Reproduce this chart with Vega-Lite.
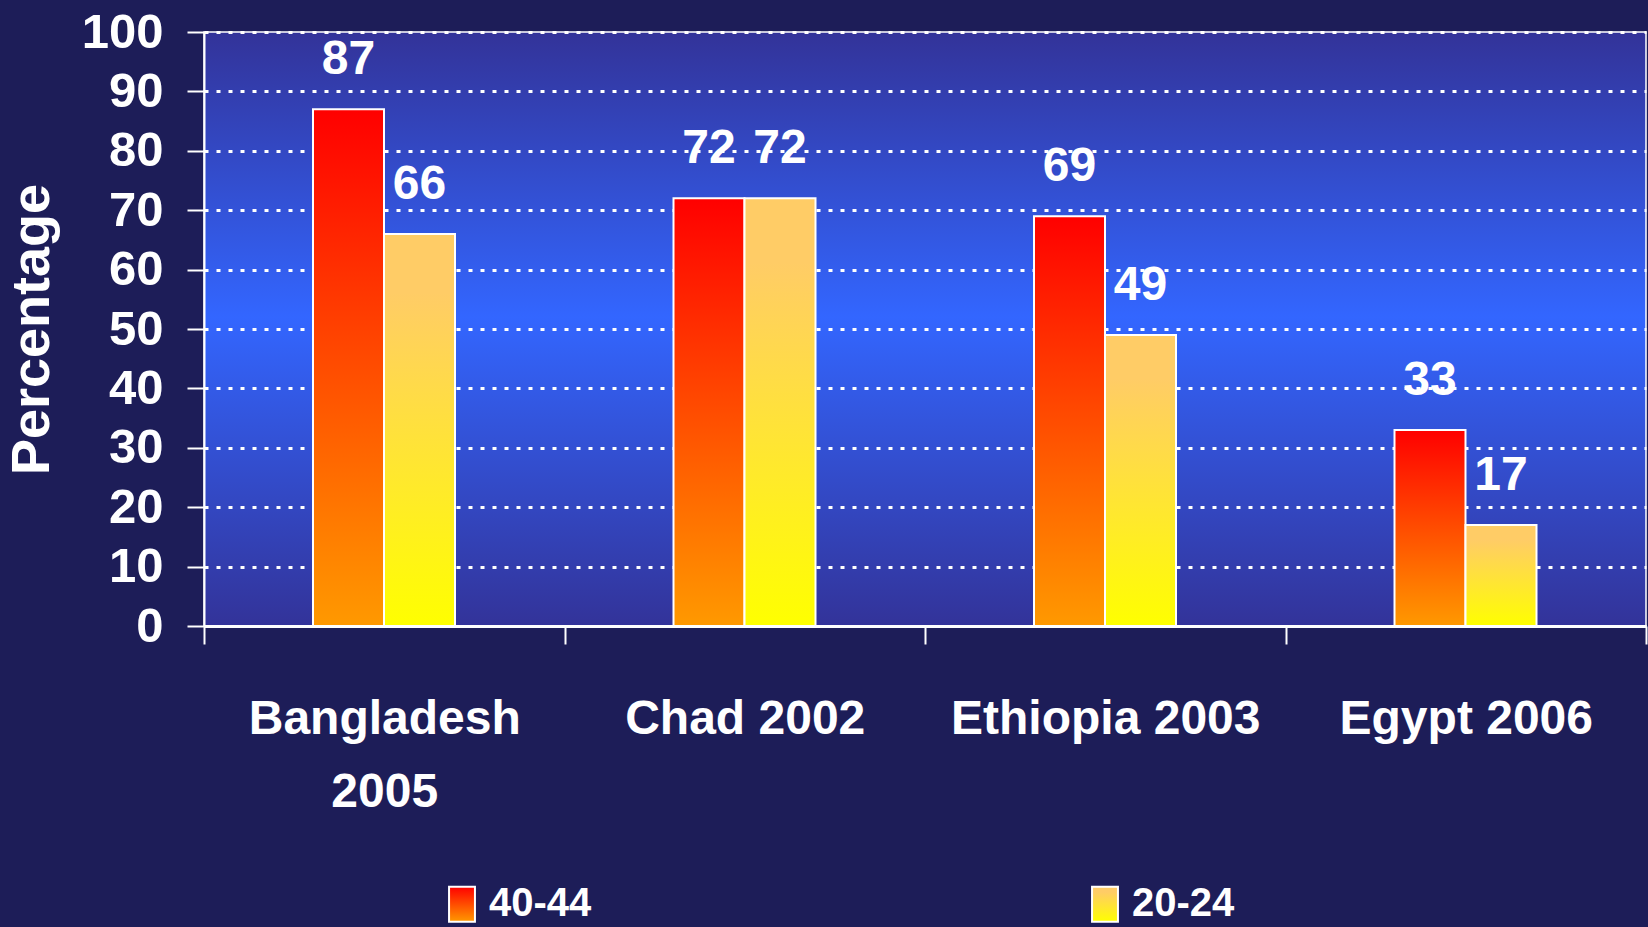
{
  "$schema": "https://vega.github.io/schema/vega-lite/v6.json",
  "autosize": {"type": "none"},
  "padding": {"left": 204, "top": 32, "right": 2, "bottom": 301},
  "width": 1442,
  "height": 594,
  "background": "#1D1D58",
  "config": {
    "view": {
      "fill": {"gradient": "linear", "x1": 0, "y1": 0, "x2": 0, "y2": 1,
        "stops": [{"offset": 0, "color": "#333399"}, {"offset": 0.48, "color": "#3366FF"}, {"offset": 1, "color": "#333399"}]},
      "stroke": "#FFFFFF",
      "strokeWidth": 1.5
    }
  },
  "data": {
    "values": [
      {"country": "Bangladesh 2005", "group": "40-44", "value": 87},
      {"country": "Bangladesh 2005", "group": "20-24", "value": 66},
      {"country": "Chad 2002", "group": "40-44", "value": 72},
      {"country": "Chad 2002", "group": "20-24", "value": 72},
      {"country": "Ethiopia 2003", "group": "40-44", "value": 69},
      {"country": "Ethiopia 2003", "group": "20-24", "value": 49},
      {"country": "Egypt 2006", "group": "40-44", "value": 33},
      {"country": "Egypt 2006", "group": "20-24", "value": 17}
    ]
  },
  "encoding": {
    "x": {
      "field": "country", "type": "nominal", "sort": null,
      "scale": {"paddingInner": 0, "paddingOuter": 0},
      "axis": {
        "title": null, "labelAngle": 0, "tickBand": "extent",
        "domainColor": "#FFFFFF", "domainWidth": 3,
        "tickColor": "#FFFFFF", "tickSize": 18, "tickWidth": 2,
        "labelFont": "Liberation Sans", "labelFontWeight": "bold", "labelFontSize": 48,
        "labelColor": "#FFFFFF", "labelPadding": 51, "labelLineHeight": 73, "labelLimit": 500,
        "labelExpr": "datum.value == 'Bangladesh 2005' ? ['Bangladesh', '2005'] : datum.label"
      }
    },
    "xOffset": {"field": "group", "type": "nominal", "sort": ["40-44", "20-24"], "scale": {"paddingInner": 0, "paddingOuter": 0, "range": [109, 251]}},
    "y": {
      "field": "value", "type": "quantitative",
      "scale": {"domain": [0, 100], "nice": false},
      "axis": {
        "title": "Percentage", "values": [0, 10, 20, 30, 40, 50, 60, 70, 80, 90, 100],
        "grid": true, "gridColor": "#FFFFFF", "gridWidth": 3, "gridDash": [4, 8], "gridOpacity": 1,
        "domainColor": "#FFFFFF", "domainWidth": 2,
        "tickColor": "#FFFFFF", "tickSize": 17, "tickWidth": 2,
        "labelFont": "Liberation Sans", "labelFontWeight": "bold", "labelFontSize": 49,
        "labelColor": "#FFFFFF", "labelPadding": 24,
        "titleFont": "Liberation Sans", "titleFontWeight": "bold", "titleFontSize": 54,
        "titleColor": "#FFFFFF", "titlePadding": 22
      }
    }
  },
  "layer": [
    {
      "mark": {"type": "bar", "stroke": "#FFFFFF", "strokeWidth": 2},
      "encoding": {
        "fill": {
          "field": "group", "type": "nominal",
          "scale": {
            "domain": ["40-44", "20-24"],
            "range": [
              {"expr": "{gradient: 'linear', x1: 0, y1: 0, x2: 0, y2: 1, stops: [{offset: 0, color: '#FF0000'}, {offset: 1, color: '#FF9900'}]}"},
              {"expr": "{gradient: 'linear', x1: 0, y1: 0, x2: 0, y2: 1, stops: [{offset: 0, color: '#FFCC66'}, {offset: 0.15, color: '#FFCC66'}, {offset: 1, color: '#FFFF00'}]}"}
            ]
          },
          "legend": {
            "title": null, "orient": "none", "direction": "horizontal",
            "legendX": 238, "legendY": 852,
            "symbolType": "M-0.74,-1H0.74V1H-0.74Z", "symbolSize": 1225,
            "symbolStrokeColor": "#FFFFFF", "symbolStrokeWidth": 2, "symbolOpacity": 1,
            "labelFont": "Liberation Sans", "labelFontWeight": "bold", "labelFontSize": 40,
            "labelColor": "#FFFFFF", "labelOffset": 7, "columnPadding": 493
          }
        }
      }
    },
    {
      "mark": {"type": "text", "baseline": "alphabetic", "dy": -35, "fill": "#FFFFFF",
        "font": "Liberation Sans", "fontWeight": "bold", "fontSize": 48},
      "encoding": {"text": {"field": "value", "type": "quantitative"}}
    }
  ]
}
